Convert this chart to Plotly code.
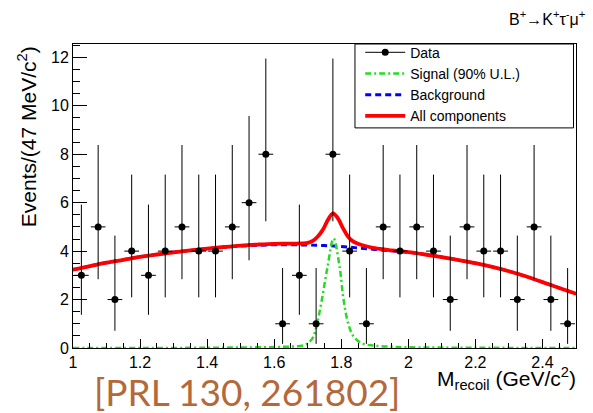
import plotly.graph_objects as go

# ---------------- data ----------------
bin_centers = [1.025, 1.075, 1.125, 1.175, 1.225, 1.275, 1.325, 1.375, 1.425, 1.475,
               1.525, 1.575, 1.625, 1.675, 1.725, 1.775, 1.825, 1.875, 1.925, 1.975,
               2.025, 2.075, 2.125, 2.175, 2.225, 2.275, 2.325, 2.375, 2.425, 2.475]
counts = [3, 5, 2, 4, 3, 4, 5, 4, 4, 5,
          6, 8, 1, 3, 1, 8, 4, 1, 5, 4,
          5, 4, 2, 5, 4, 4, 2, 5, 2, 1]
# Poisson (68.3%) interval limits
poisson_low = {1: 0.17, 2: 0.71, 3: 1.37, 4: 2.09, 5: 2.84, 6: 3.62, 8: 5.23}
poisson_high = {1: 3.30, 2: 4.64, 3: 5.92, 4: 7.16, 5: 8.38, 6: 9.58, 8: 11.95}
bin_half_width = 0.022

bkg_x = [1.00, 1.05, 1.10, 1.15, 1.20, 1.25, 1.30, 1.35, 1.40, 1.45, 1.50, 1.55,
         1.60, 1.65, 1.70, 1.75, 1.80, 1.85, 1.90, 1.95, 2.00, 2.05, 2.10, 2.15,
         2.20, 2.25, 2.30, 2.35, 2.40, 2.45, 2.50]
bkg_y = [3.23, 3.38, 3.52, 3.64, 3.76, 3.86, 3.95, 4.03, 4.10, 4.16, 4.21, 4.24,
         4.26, 4.26, 4.25, 4.23, 4.19, 4.13, 4.07, 4.01, 3.95, 3.86, 3.75, 3.63,
         3.50, 3.35, 3.17, 2.96, 2.72, 2.48, 2.24]

tot_x = [1.00, 1.05, 1.10, 1.15, 1.20, 1.25, 1.30, 1.35, 1.40, 1.45, 1.50, 1.55,
         1.60, 1.65, 1.70, 1.715, 1.73, 1.745, 1.76, 1.775, 1.79, 1.805, 1.82,
         1.835, 1.85, 1.875, 1.90, 1.95, 2.00, 2.05, 2.10, 2.15, 2.20, 2.25,
         2.30, 2.35, 2.40, 2.45, 2.50]
tot_y = [3.23, 3.38, 3.52, 3.64, 3.76, 3.86, 3.95, 4.03, 4.10, 4.17, 4.23, 4.27,
         4.30, 4.31, 4.34, 4.42, 4.60, 4.88, 5.28, 5.56, 5.35, 4.95, 4.60,
         4.40, 4.30, 4.20, 4.12, 4.03, 3.96, 3.86, 3.75, 3.63, 3.50, 3.35,
         3.17, 2.96, 2.72, 2.48, 2.24]

sig_x = [1.00, 1.20, 1.40, 1.50, 1.60, 1.65, 1.69, 1.705, 1.717, 1.727, 1.742,
         1.759, 1.777, 1.795, 1.807, 1.822, 1.837, 1.862, 1.897, 1.95, 2.00,
         2.20, 2.50]
sig_y = [0.00, 0.00, 0.01, 0.02, 0.04, 0.06, 0.12, 0.25, 0.47, 0.95, 1.98,
         3.35, 4.52, 3.35, 1.98, 0.95, 0.47, 0.19, 0.10, 0.05, 0.03,
         0.01, 0.00]

x_range = [1.0, 2.5]
y_range = [0.0, 12.55]

# ---------------- figure ----------------
err_plus = [poisson_high[c] - c for c in counts]
err_minus = [c - poisson_low[c] for c in counts]

FONT = "Liberation Sans, Arial, sans-serif"

fig = go.Figure()

fig.add_trace(go.Scatter(
    x=bkg_x, y=bkg_y, mode="lines", name="Background",
    line=dict(color="#0000ff", width=3, dash="6px,4px", shape="spline"),
    legendrank=3))
fig.add_trace(go.Scatter(
    x=tot_x, y=tot_y, mode="lines", name="All components",
    line=dict(color="#ff0000", width=3.8, shape="spline"),
    legendrank=4))
fig.add_trace(go.Scatter(
    x=sig_x, y=sig_y, mode="lines", name="Signal (90% U.L.)",
    line=dict(color="#22dd22", width=2.5, dash="6px,3px,2px,3px", shape="spline"),
    legendrank=2))
fig.add_trace(go.Scatter(
    x=bin_centers, y=counts, mode="markers", showlegend=False,
    marker=dict(color="black", size=7, symbol="circle"),
    error_y=dict(type="data", symmetric=False, array=err_plus, arrayminus=err_minus,
                 color="black", thickness=1, width=0),
    error_x=dict(type="constant", value=bin_half_width, color="black",
                 thickness=1, width=0)))
# legend proxy for the data entry
fig.add_trace(go.Scatter(
    x=[None], y=[None], mode="lines+markers", name="Data",
    line=dict(color="black", width=1),
    marker=dict(color="black", size=7), legendrank=1))

fig.update_layout(
    width=593, height=413,
    margin=dict(l=73, r=17, t=44, b=65),
    paper_bgcolor="white", plot_bgcolor="white",
    font=dict(family=FONT, color="black", size=16),
    showlegend=True,
    legend=dict(x=0.571, y=1.024, xanchor="left", yanchor="top",
                bgcolor="rgba(0,0,0,0)", borderwidth=0,
                font=dict(family=FONT, size=14, color="black"),
                tracegroupgap=0, itemwidth=40),
    xaxis=dict(range=x_range, showgrid=False, zeroline=False,
               showline=True, linecolor="black", linewidth=1, mirror=True,
               ticks="inside", ticklen=9, tickwidth=1, tickcolor="black",
               dtick=0.2, tick0=1.0, tickformat="~g",
               minor=dict(dtick=0.05, ticks="inside", ticklen=5, tickcolor="black"),
               tickfont=dict(family=FONT, size=16)),
    yaxis=dict(range=y_range, showgrid=False, zeroline=False,
               showline=True, linecolor="black", linewidth=1, mirror=True,
               ticks="inside", ticklen=14, tickwidth=1, tickcolor="black",
               dtick=2, tick0=0,
               minor=dict(dtick=0.5, ticks="inside", ticklen=7, tickcolor="black"),
               tickfont=dict(family=FONT, size=16)),
)

# legend frame
fig.add_shape(type="rect", xref="paper", yref="paper",
              x0=0.5606, x1=0.995, y0=0.724, y1=1.0,
              line=dict(color="black", width=1), fillcolor="rgba(0,0,0,0)")

annotations = [
    dict(text="Events/(47 MeV/c<sup>2</sup>)", x=-0.092, y=1.0, xref="paper", yref="paper",
         xanchor="center", yanchor="top", textangle=-90, showarrow=False,
         font=dict(family=FONT, size=21, color="black")),
    dict(text="M<sub>recoil</sub> (GeV/c<sup>2</sup>)", x=1.003, y=-0.045, xref="paper", yref="paper",
         xanchor="right", yanchor="top", showarrow=False,
         font=dict(family=FONT, size=21, color="black")),
    dict(text="B<sup>+</sup>→K<sup>+</sup>τ<sup>-</sup>μ<sup>+</sup>", x=1.022, y=1.085,
         xref="paper", yref="paper", xanchor="right", yanchor="middle", showarrow=False,
         font=dict(family=FONT, size=16, color="black")),
    dict(text="[PRL 130, 261802]", x=0.346, y=-0.143, xref="paper", yref="paper",
         xanchor="center", yanchor="middle", showarrow=False,
         font=dict(family="Lato, Open Sans, sans-serif", size=37, color="#b4693b")),
]
fig.update_layout(annotations=annotations)

fig.write_html("out.html")
